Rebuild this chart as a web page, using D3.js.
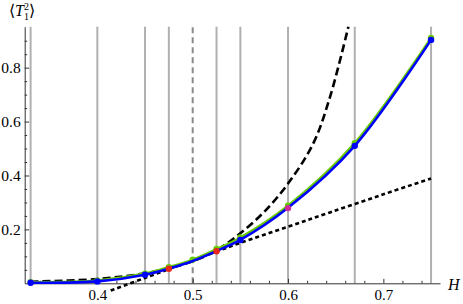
<!DOCTYPE html>
<html lang="en">
<head>
    <meta charset="UTF-8">
    <script src="https://d3js.org/d3.v7.min.js"></script>
    <style>
        body { margin: 0; background: #fff; }
        .axis path, .axis line { stroke: #333; }
    </style>
</head>
<body>
<div id="chart"></div>
<script>
// Data
const hValues = [0.33, 0.4, 0.45, 0.475, 0.5, 0.525, 0.55, 0.6, 0.67, 0.75];
const blueValues = [0.002, 0.007, 0.032, 0.055, 0.083, 0.12, 0.161, 0.28, 0.51, 0.903];
const greenValues = [0.004, 0.01, 0.036, 0.06, 0.088, 0.127, 0.17, 0.288, 0.52, 0.91];
const blueDotH = [0.33, 0.4, 0.45, 0.55, 0.67, 0.75];
const redDotH = [0.475, 0.525, 0.6];
const redDotValues = [0.054, 0.119, 0.279];

const dashedH = [0.33, 0.4, 0.45, 0.475, 0.5, 0.525, 0.55, 0.575, 0.6, 0.6265, 0.644, 0.6633];
const dashedValues = [0.006, 0.016, 0.037, 0.056, 0.082, 0.122, 0.186, 0.265, 0.37, 0.519, 0.691, 0.952];

const dottedH = [0.414, 0.45, 0.5, 0.525, 0.55, 0.6, 0.644, 0.7, 0.75];
const dottedValues = [-0.027, 0.02, 0.085, 0.118, 0.15, 0.21, 0.263, 0.33, 0.389];

const gridH = [0.33, 0.4, 0.45, 0.475, 0.525, 0.55, 0.6, 0.67, 0.75];
const dashedGridH = [0.5];

const xMajor = [0.4, 0.5, 0.6, 0.7];
const yMajor = [0.2, 0.4, 0.6, 0.8];

const serif = "Liberation Serif";

// Dimensions
const width = 463, height = 304;

const svg = d3.select("#chart").append("svg")
    .attr("width", width)
    .attr("height", height);

// Scales
const x = d3.scaleLinear().domain([0.3238, 0.7594]).range([24.7, 440]);
const y = d3.scaleLinear().domain([0, 0.952]).range([283.3, 26.7]);

// Vertical reference lines
svg.append("g").selectAll("line").data(gridH).join("line")
    .attr("x1", d => x(d)).attr("x2", d => x(d))
    .attr("y1", y(0)).attr("y2", y(0.952))
    .attr("stroke", "#b0b0b0").attr("stroke-width", 2);

svg.append("g").selectAll("line").data(dashedGridH).join("line")
    .attr("x1", d => x(d)).attr("x2", d => x(d))
    .attr("y1", y(0)).attr("y2", y(0.952))
    .attr("stroke", "#8a8a8a").attr("stroke-width", 2)
    .attr("stroke-dasharray", "6,4");

// Axes
const xMinor = d3.range(0.34, 0.76, 0.02).filter(v => !xMajor.some(m => Math.abs(m - v) < 1e-6));
const yMinor = d3.range(0.05, 0.95, 0.05).filter(v => !yMajor.some(m => Math.abs(m - v) < 1e-6));

svg.append("g").attr("class", "axis")
    .attr("transform", `translate(0,${y(0)})`)
    .call(d3.axisBottom(x).tickValues(xMinor).tickFormat("").tickSizeInner(-2.5).tickSizeOuter(0));
svg.append("g").attr("class", "axis")
    .attr("transform", `translate(0,${y(0)})`)
    .call(d3.axisBottom(x).tickValues(xMajor).tickFormat(d3.format(".1f")).tickSizeInner(-4.5).tickSizeOuter(0).tickPadding(6.5))
    .call(g => g.select(".domain").remove())
    .attr("font-family", serif).attr("font-size", 15);

svg.append("g").attr("class", "axis")
    .attr("transform", `translate(${x(0.3238)},0)`)
    .call(d3.axisLeft(y).tickValues(yMinor).tickFormat("").tickSizeInner(-2.5).tickSizeOuter(0));
svg.append("g").attr("class", "axis")
    .attr("transform", `translate(${x(0.3238)},0)`)
    .call(d3.axisLeft(y).tickValues(yMajor).tickFormat(d3.format(".1f")).tickSizeInner(-4.5).tickSizeOuter(0).tickPadding(4))
    .call(g => g.select(".domain").remove())
    .attr("font-family", serif).attr("font-size", 15.5);

// Lines
const line = d3.line().curve(d3.curveCatmullRom);
const pts = (hs, vs) => hs.map((h, i) => [x(h), y(vs[i])]);

svg.append("path")
    .attr("d", line(pts(dottedH, dottedValues)))
    .attr("fill", "none").attr("stroke", "#000").attr("stroke-width", 2.6)
    .attr("stroke-dasharray", "4,3");

svg.append("path")
    .attr("d", line(pts(dashedH, dashedValues)))
    .attr("fill", "none").attr("stroke", "#000").attr("stroke-width", 2.6)
    .attr("stroke-dasharray", "8,4");

svg.append("path")
    .attr("d", line(pts(hValues, greenValues)))
    .attr("fill", "none").attr("stroke", "#66cc00").attr("stroke-width", 2.5);

svg.append("g").selectAll("circle").data(pts(hValues, greenValues)).join("circle")
    .attr("cx", d => d[0]).attr("cy", d => d[1]).attr("r", 3.2)
    .attr("fill", "#66cc00");

svg.append("path")
    .attr("d", line(pts(hValues, blueValues)))
    .attr("fill", "none").attr("stroke", "#0000ff").attr("stroke-width", 2.6);

svg.append("g").selectAll("circle").data(pts(redDotH, redDotValues)).join("circle")
    .attr("cx", d => d[0]).attr("cy", d => d[1]).attr("r", 3.2)
    .attr("fill", (d, i) => i === 2 ? "#cc2a9a" : "#e8261a");

svg.append("g").selectAll("circle")
    .data(blueDotH.map(h => [x(h), y(blueValues[hValues.indexOf(h)])])).join("circle")
    .attr("cx", d => d[0]).attr("cy", d => d[1]).attr("r", 3.2)
    .attr("fill", "#0000ff");

// Axis labels
const yLabel = svg.append("text")
    .attr("x", 9).attr("y", 16)
    .attr("font-family", serif).attr("font-size", 16);
yLabel.append("tspan").text("\u27E8");
yLabel.append("tspan").attr("font-style", "italic").text("T");
yLabel.append("tspan").attr("dy", 3.5).attr("font-size", 10).text("1");
yLabel.append("tspan").attr("dx", -5).attr("dy", -10).attr("font-size", 10).text("2");
yLabel.append("tspan").attr("dy", 6.5).text("\u27E9");

svg.append("text")
    .attr("x", 448).attr("y", 290)
    .attr("font-family", serif).attr("font-size", 16).attr("font-style", "italic")
    .text("H");
</script>
</body>
</html>
